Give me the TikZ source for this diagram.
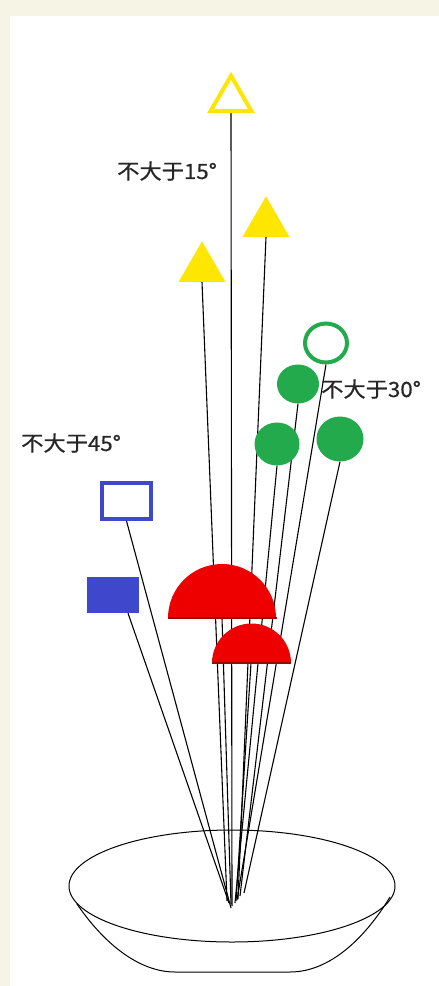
\documentclass[tikz,border=0pt]{standalone}
\usepackage{fontspec}
\newfontfamily\cjk[FakeStretch=1.06,FakeBold=0.6]{Noto Sans CJK SC}
\usepackage{tikz}
\usetikzlibrary{shapes.geometric,backgrounds}
\definecolor{cream}{RGB}{246,244,228}
\definecolor{pyellow}{RGB}{255,230,0}
\definecolor{pgreen}{RGB}{34,170,76}
\definecolor{pblue}{RGB}{63,72,204}
\definecolor{pred}{RGB}{238,0,0}
\definecolor{pdred}{RGB}{150,10,10}

\begin{document}
\begin{tikzpicture}[x=1pt,y=-1pt,
    stem/.style={black,line width=1.1pt},
    tri/.style={regular polygon,regular polygon sides=3,inner sep=0pt,anchor=south},
    ball/.style={ellipse,inner sep=0pt},
    lbl/.style={font=\cjk\fontsize{21}{21}\selectfont,text=black!85,inner sep=0pt,anchor=west}]
              \useasboundingbox (0,0) rectangle (439,986);
              % flowers
              \node[tri,draw=pyellow,line width=4pt,fill=white,minimum size=47pt](triH)at(231,113){};
              \node[tri,fill=pyellow,minimum size=54pt](triR)at(266,237){};
              \node[tri,fill=pyellow,minimum size=54pt](triL)at(202,282){};
              \node[ball,draw=pgreen,line width=4pt,fill=white,minimum width=42pt,minimum height=39pt](cirH)at(326,343){};
              \node[ball,fill=pgreen,minimum width=42pt,minimum height=39pt](cirA)at(298,384){};
              \node[ball,fill=pgreen,minimum width=45pt,minimum height=43pt](cirB)at(277,444){};
              \node[ball,fill=pgreen,minimum width=47pt,minimum height=45pt](cirC)at(340,439){};
              \node[draw=pblue,line width=4pt,fill=white,minimum width=49pt,minimum height=36pt,inner sep=0pt](rectH)at(126.5,501){};
              \node[fill=pblue,minimum width=52pt,minimum height=36pt,inner sep=0pt](rectF)at(113,595){};
              \fill[pred](168,618) arc[start angle=180,end angle=360,radius=54];
              \draw[pdred,line width=1.5pt](168,618)--(277,618);
              \fill[pred](212,663) arc[start angle=180,end angle=360,radius=39.5];
              \draw[pdred,line width=1.5pt](212,663)--(291,663);
              \coordinate(capBig)at(222,618);
              \coordinate(capSmall)at(251,663);
              % labels
              \node[lbl](lab15)at(117,171){不大于15°};
              \node[lbl](lab30)at(321,389){不大于30°};
              \node[lbl](lab45)at(21,443){不大于45°};
              % feet in the bowl
              \coordinate(footH)at(232,906);
              \coordinate(footR)at(238,899);
              \coordinate(footL)at(227,901);
              \coordinate(footCH)at(237,900);
              \coordinate(footA)at(240,896);
              \coordinate(footB)at(235,903);
              \coordinate(footC)at(244,893);
              \coordinate(footRH)at(231,908);
              \coordinate(footRF)at(229,903);
              \coordinate(footBig)at(231,904);
              \coordinate(footSmall)at(236,901);
              \begin{scope}[on background layer]
              \fill[cream](0,0) rectangle (439,986);
              \fill[white](10,16) rectangle (439,986);
              \draw[stem](triH.south)--(footH);
              \draw[stem](triR.south)--(footR);
              \draw[stem](triL.south)--(footL);
              \draw[stem](cirH.south)--(footCH);
              \draw[stem](cirA.south)--(footA);
              \draw[stem](cirB.south)--(footB);
              \draw[stem](cirC.south)--(footC);
              \draw[stem](rectH.south)--(footRH);
              \draw[stem]([xshift=15pt]rectF.south)--(footRF);
              \draw[stem](capBig)--(footBig);
              \draw[stem](capSmall)--(footSmall);
              \end{scope}
              % bowl
              \draw[line width=1pt](232,886) ellipse [x radius=163,y radius=56];
              \draw[line width=1pt](77,904) .. controls (105,945) and (140,972) .. (175,972) -- (290,972) .. controls (330,972) and (365,938) .. (390,897);
\end{tikzpicture}
\end{document}
